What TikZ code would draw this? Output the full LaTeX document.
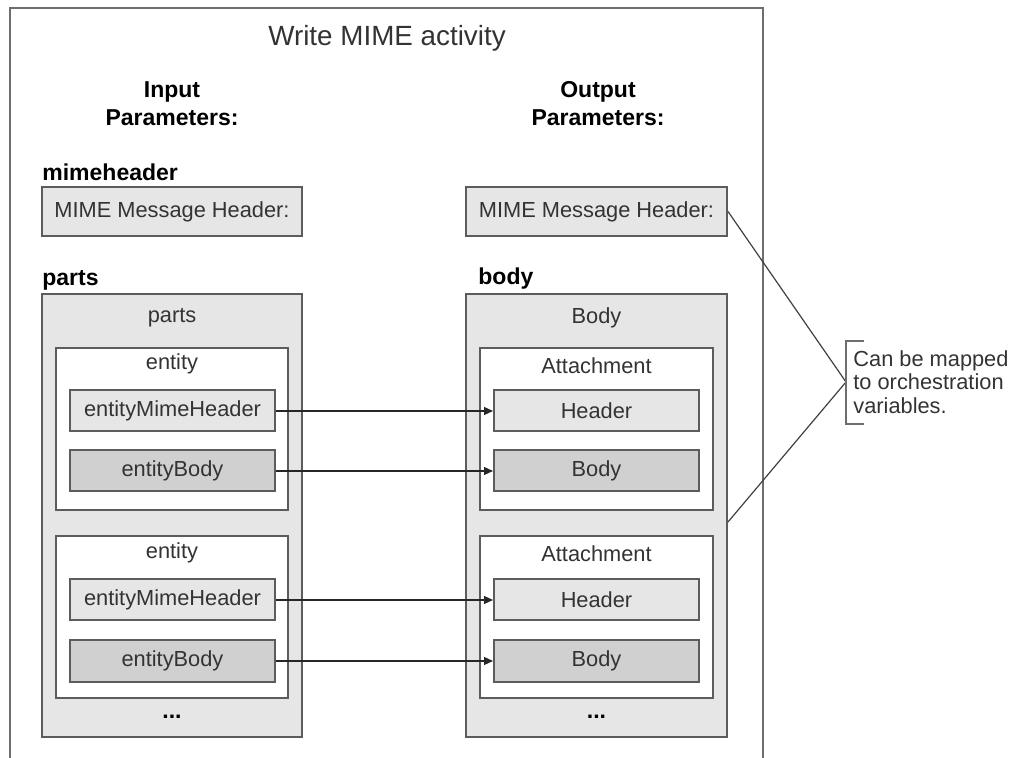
\documentclass[tikz,border=0pt]{standalone}
\usepackage{fontspec}
\setmainfont{Liberation Sans}
\usetikzlibrary{arrows.meta}
\definecolor{lineC}{HTML}{5C5C5C}
\definecolor{frameC}{HTML}{6E6E6E}
\definecolor{lightC}{HTML}{E6E6E6}
\definecolor{darkC}{HTML}{D0D0D0}
\definecolor{txtC}{HTML}{333333}

\begin{document}
\begin{tikzpicture}[x=0.5pt, y=-0.5pt,
  lbl/.style={font=\fontsize{10.9}{13}\selectfont, text=txtC, inner sep=0pt},
  hd/.style={font=\bfseries\fontsize{11.5}{14}\selectfont, inner sep=0pt},
  box/.style={lbl, draw=lineC, line width=1pt},
  light/.style={box, fill=lightC},
  dark/.style={box, fill=darkC},
  plain/.style={box, fill=white},
  link/.style={draw=black!85, line width=0.6pt, -{Triangle[length=4.5pt,width=4pt]}}]
\useasboundingbox (0,0) rectangle (1009,758);

% activity frame, open at the bottom
\draw[frameC, line width=0.9pt] (10,758) -- (10,8) -- (763,8) -- (763,758);
\node[lbl, font=\fontsize{13.9}{16}\selectfont] (title) at (387,38) {Write MIME activity};

\node[hd, align=center] (inHd) at (172,104) {Input\\Parameters:};
\node[hd, align=center] (outHd) at (598,104) {Output\\Parameters:};

% header parameters
\node[hd, anchor=west] (mimeLbl) at (42,172) {mimeheader};
\node[light, minimum width=130pt, minimum height=24.5pt] (mimeIn) at (172,211.5) {MIME Message Header:};
\node[light, minimum width=130.5pt, minimum height=24.5pt] (mimeOut) at (596.5,211.5) {MIME Message Header:};

% input parts
\node[hd, anchor=west] (partsLbl) at (42,280) {parts};
\node[light, minimum width=130pt, minimum height=221.5pt] (partsBox) at (172,515.5) {};
\node[lbl] (partsTxt) at (172,318) {parts};
\node[plain, minimum width=116pt, minimum height=81pt] (ent1) at (172,429) {};
\node[lbl] (ent1Txt) at (172,364) {entity};
\node[light, minimum width=102.5pt, minimum height=20.5pt] (emh1) at (172.5,411) {entityMimeHeader};
\node[dark, minimum width=102.5pt, minimum height=20.5pt] (eb1) at (172.5,471) {entityBody};
\node[plain, minimum width=116pt, minimum height=81pt] (ent2) at (172,617) {};
\node[lbl] (ent2Txt) at (172,553) {entity};
\node[light, minimum width=102.5pt, minimum height=20.5pt] (emh2) at (172.5,600) {entityMimeHeader};
\node[dark, minimum width=102.5pt, minimum height=21pt] (eb2) at (172.5,661) {entityBody};
\node[hd] (partsDots) at (172,717) {...};

% output body
\node[hd, anchor=west] (bodyLbl) at (478,279) {body};
\node[light, minimum width=130.5pt, minimum height=221.5pt] (bodyBox) at (596.5,515.5) {};
\node[lbl] (bodyTxt) at (596.5,318) {Body};
\node[plain, minimum width=116.5pt, minimum height=81pt] (att1) at (596.5,429) {};
\node[lbl] (att1Txt) at (596.5,366) {Attachment};
\node[light, minimum width=102.5pt, minimum height=20.5pt] (hdr1) at (596.5,411) {Header};
\node[dark, minimum width=102.5pt, minimum height=20.5pt] (bd1) at (596.5,471) {Body};
\node[plain, minimum width=116.5pt, minimum height=81pt] (att2) at (596.5,617) {};
\node[lbl] (att2Txt) at (596.5,554) {Attachment};
\node[light, minimum width=102.5pt, minimum height=20.5pt] (hdr2) at (596.5,600) {Header};
\node[dark, minimum width=102.5pt, minimum height=21pt] (bd2) at (596.5,661) {Body};
\node[hd] (bodyDots) at (596.5,717) {...};

\draw[link] (emh1) -- (hdr1);
\draw[link] (eb1) -- (bd1);
\draw[link] (emh2) -- (hdr2);
\draw[link] (eb2) -- (bd2);

% callout
\coordinate (tip) at (846,382);
\coordinate (low) at (bodyBox.east |- 0,522);
\draw[black!75, line width=0.6pt] (mimeOut.east) -- (tip) -- (low);
\draw[frameC, line width=1pt] (864,341) -| (846,424) -- (864,424);
\node[lbl, anchor=west, align=left, font=\fontsize{10.9}{11.75}\selectfont] (note) at (853,382)
  {Can be mapped\\to orchestration\\variables.};
\end{tikzpicture}
\end{document}
